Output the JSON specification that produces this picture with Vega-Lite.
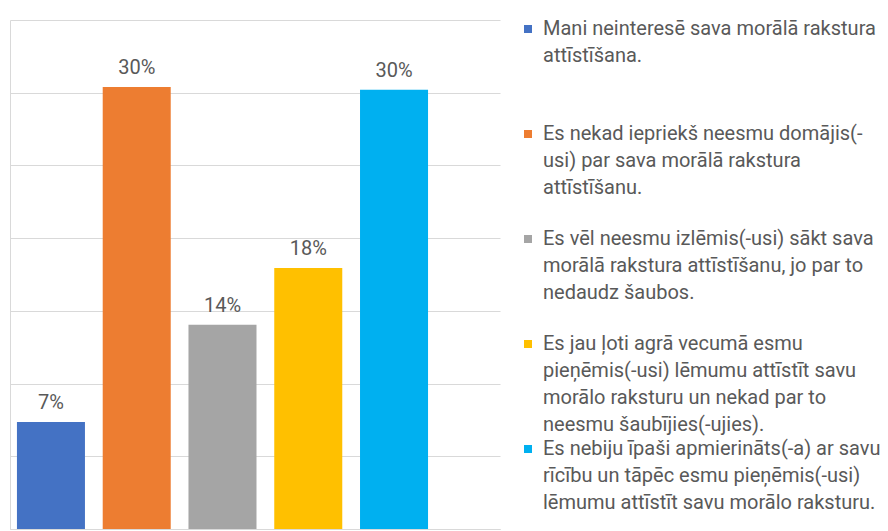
{
  "$schema": "https://vega.github.io/schema/vega-lite/v6.json",
  "width": 490,
  "height": 509,
  "padding": {"left": 10, "top": 20, "right": 388, "bottom": 2},
  "autosize": {"type": "none"},
  "background": "white",
  "data": {
    "values": [
      {"answer": "Mani neinteresē sava morālā rakstura\nattīstīšana.", "share": 0.0735},
      {"answer": "Es nekad iepriekš neesmu domājis(-\nusi) par sava morālā rakstura\nattīstīšanu.", "share": 0.304},
      {"answer": "Es vēl neesmu izlēmis(-usi) sākt sava\nmorālā rakstura attīstīšanu, jo par to\nnedaudz šaubos.", "share": 0.1405},
      {"answer": "Es jau ļoti agrā vecumā esmu\npieņēmis(-usi) lēmumu attīstīt savu\nmorālo raksturu un nekad par to\nneesmu šaubījies(-ujies).", "share": 0.1795},
      {"answer": "Es nebiju īpaši apmierināts(-a) ar savu\nrīcību un tāpēc esmu pieņēmis(-usi)\nlēmumu attīstīt savu morālo raksturu.", "share": 0.302}
    ]
  },
  "encoding": {
    "x": {
      "field": "answer",
      "type": "nominal",
      "sort": null,
      "scale": {"paddingInner": 0.207, "paddingOuter": 0.46, "align": 0.088},
      "axis": {"labels": false, "ticks": false, "title": null, "domainColor": "#d9d9d9", "domainWidth": 1}
    },
    "y": {
      "field": "share",
      "type": "quantitative",
      "scale": {"domain": [0, 0.35], "nice": false},
      "axis": {"values": [0, 0.05, 0.1, 0.15, 0.2, 0.25, 0.3, 0.35], "labels": false, "ticks": false, "title": null, "domainColor": "#d9d9d9", "gridColor": "#d9d9d9", "gridWidth": 1}
    }
  },
  "layer": [
    {
      "mark": {"type": "bar"},
      "encoding": {
        "color": {
          "field": "answer",
          "type": "nominal",
          "sort": null,
          "scale": {"range": ["#4472C4", "#ED7D31", "#A5A5A5", "#FFC000", "#00B0F0"]},
          "legend": {
            "title": null,
            "orient": "none",
            "legendX": 508,
            "legendY": -1,
            "symbolType": "square",
            "symbolSize": 64,
            "symbolStrokeWidth": 0,
            "labelFont": "Roboto",
            "labelFontSize": 20,
            "labelColor": "#595959",
            "labelLimit": 400,
            "labelBaseline": "top",
            "labelOffset": 5,
            "gridAlign": "all",
            "rowPadding": 4,
            "labelExpr": "split(datum.label, '\\n')",
            "encode": {
              "labels": {"update": {"lineHeight": {"value": 27}, "dy": {"value": -10}}}
            }
          }
        }
      }
    },
    {
      "mark": {"type": "text", "baseline": "bottom", "dy": -9, "font": "Roboto", "fontSize": 20, "color": "#595959"},
      "encoding": {
        "text": {"field": "share", "type": "quantitative", "format": ".0%"}
      }
    }
  ],
  "config": {
    "view": {"stroke": null}
  }
}
